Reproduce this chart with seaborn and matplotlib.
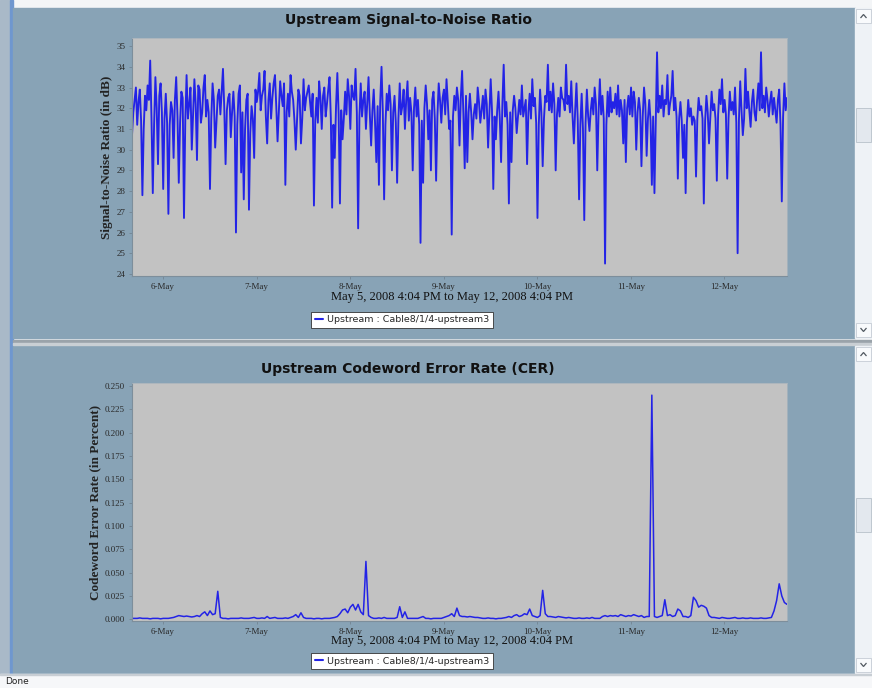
import numpy as np
import pandas as pd
import matplotlib
matplotlib.use("Agg")
import matplotlib.pyplot as plt
import matplotlib.dates as mdates
from matplotlib.patches import Rectangle, Polygon
from matplotlib.lines import Line2D
import seaborn as sns

# ---------------- data ----------------
start_time = "2008-05-05 16:04"

# SNR samples read at the 40-minute marks ...
snr_db = [
    30.7, 32.4, 31.2, 32.9, 27.8, 32.6, 33.1, 34.3, 27.9, 33.5,
    29.3, 33.2, 28.1, 32.7, 26.9, 32.3, 29.6, 33.5, 28.4, 32.8,
    26.7, 33.6, 32.2, 30.0, 33.4, 29.5, 32.9, 31.8, 33.6, 32.4,
    28.1, 33.2, 30.1, 32.6, 31.7, 33.9, 29.3, 32.5, 30.6, 32.8,
    26.0, 32.7, 28.9, 27.6, 32.4, 27.1, 32.1, 29.6, 32.3, 33.7,
    32.6, 33.8, 30.3, 33.2, 32.5, 33.6, 30.4, 33.3, 32.1, 28.3,
    32.7, 33.6, 32.4, 30.0, 32.9, 30.3, 33.4, 32.5, 33.1, 31.6,
    27.3, 32.5, 33.3, 31.0, 33.0, 32.2, 33.5, 27.2, 29.6, 33.7,
    27.4, 30.5, 32.8, 33.4, 31.0, 32.6, 33.9, 26.2, 33.2, 32.4,
    31.0, 33.5, 30.2, 32.9, 29.4, 28.3, 34.0, 27.6, 32.7, 33.1,
    29.0, 32.6, 28.4, 33.2, 32.1, 31.0, 33.3, 32.5, 29.0, 33.0,
    32.4, 25.5, 28.4, 33.1, 30.5, 29.0, 32.8, 28.5, 33.2, 31.3,
    32.9, 33.4, 31.0, 25.9, 32.6, 33.0, 30.2, 33.8, 29.1, 29.4,
    32.7, 30.5, 32.2, 33.0, 31.3, 32.6, 32.9, 30.1, 33.4, 28.1,
    30.5, 32.8, 29.4, 34.1, 32.3, 27.4, 29.4, 32.6, 30.8, 32.4,
    33.1, 32.0, 29.3, 32.7, 33.4, 32.5, 26.7, 32.9, 29.2, 32.6,
    34.1, 32.8, 33.2, 29.0, 32.5, 33.0, 32.4, 34.1, 32.6, 33.3,
    30.3, 33.2, 27.6, 32.7, 26.6, 32.9, 30.9, 32.5, 33.0, 29.0,
    33.4, 32.6, 24.5, 32.8, 33.0, 32.3, 32.7, 33.1, 32.4, 30.3,
    29.4, 32.6, 33.0, 32.8, 30.0, 32.5, 29.2, 33.0, 29.7, 32.4,
    28.3, 27.9, 34.7, 32.6, 33.1, 32.4, 33.6, 32.2, 33.8, 32.5,
    28.6, 32.3, 29.6, 27.9, 32.4, 32.0, 31.6, 28.7, 32.5, 32.1,
    27.4, 32.6, 30.3, 32.8, 32.2, 28.5, 32.9, 33.4, 32.4, 28.6,
    32.8, 32.3, 33.0, 25.0, 33.3, 30.7, 33.9, 32.8, 31.1, 32.9,
    31.4, 33.2, 34.7, 32.6, 33.0, 31.6, 32.8, 32.5, 31.3, 32.9,
    27.5, 33.2, 32.5,
]
# ... and the in-between samples (20 minutes later) filling the dense band
snr_db_between = [
    31.8, 33.0, 32.3, 31.4, 31.0, 31.9, 32.4, 31.5, 31.2, 32.0,
    32.6, 31.8, 31.5, 31.3, 31.2, 31.9, 32.4, 31.6, 31.3, 32.5,
    31.4, 31.5, 33.0, 31.7, 32.2, 33.1, 31.3, 33.0, 31.6, 31.8,
    31.5, 32.4, 31.4, 32.9, 32.8, 32.0, 31.9, 32.7, 31.8, 31.6,
    31.2, 33.1, 31.8, 31.0, 32.7, 30.8, 31.5, 32.9, 32.8, 31.9,
    32.9, 31.6, 32.4, 31.5, 33.2, 32.1, 31.8, 32.6, 33.2, 31.8,
    31.6, 32.8, 31.4, 31.5, 32.6, 31.5, 31.9, 32.8, 32.3, 32.7,
    31.4, 31.3, 32.5, 32.6, 31.6, 32.9, 31.5, 31.2, 32.1, 31.7,
    31.9, 31.5, 31.7, 32.6, 33.1, 32.4, 31.8, 31.6, 31.6, 32.8,
    32.3, 31.7, 31.9, 31.3, 32.1, 32.3, 31.8, 31.2, 31.9, 32.2,
    31.8, 31.3, 31.5, 31.7, 32.9, 32.4, 31.4, 31.8, 32.0, 31.6,
    31.2, 31.4, 32.0, 32.2, 31.9, 32.4, 31.5, 31.6, 32.4, 32.5,
    31.7, 32.3, 31.4, 31.6, 31.9, 32.4, 32.5, 31.7, 32.6, 31.8,
    31.8, 31.7, 31.5, 32.3, 31.9, 31.5, 32.2, 31.8, 31.9, 31.6,
    31.9, 31.5, 32.2, 31.6, 31.2, 31.8, 31.9, 32.0, 31.6, 31.7,
    31.6, 32.4, 31.8, 31.5, 32.1, 31.3, 31.2, 31.8, 31.5, 32.3,
    31.9, 31.8, 32.2, 31.7, 31.6, 32.5, 31.9, 32.2, 31.8, 31.6,
    31.9, 31.4, 31.2, 31.0, 31.3, 31.6, 31.9, 31.7, 32.2, 31.8,
    31.7, 31.5, 31.2, 31.6, 31.8, 32.0, 31.7, 31.6, 31.9, 32.4,
    32.0, 31.7, 31.6, 32.3, 31.8, 31.9, 31.6, 32.2, 31.5, 31.4,
    31.6, 31.2, 31.8, 32.0, 31.6, 32.2, 31.7, 32.6, 31.9, 31.6,
    31.5, 31.4, 31.2, 31.3, 31.6, 31.2, 31.4, 31.5, 31.9, 31.5,
    31.4, 31.8, 31.6, 31.9, 31.5, 31.7, 32.2, 31.8, 31.7, 31.5,
    31.9, 31.7, 31.3, 31.4, 31.9, 31.5, 32.0, 31.9, 32.3, 31.8,
    32.4, 31.9, 32.0, 31.8, 32.4, 32.3, 31.7, 31.9, 32.4, 31.2,
    31.6, 31.9,
]

# CER samples at 40-minute marks
cer_pct = [
    0.001, 0.001, 0.001, 0.0015, 0.001, 0.001, 0.001, 0.0005, 0.001, 0.001,
    0.001, 0.0005, 0.001, 0.001, 0.001, 0.0015, 0.002, 0.003, 0.004, 0.0035,
    0.003, 0.0035, 0.003, 0.0025, 0.003, 0.004, 0.003, 0.006, 0.008, 0.004,
    0.009, 0.005, 0.006, 0.030, 0.002, 0.001, 0.001, 0.0005, 0.001, 0.001,
    0.001, 0.001, 0.0015, 0.001, 0.001, 0.001, 0.0015, 0.002, 0.001, 0.001,
    0.0015, 0.001, 0.003, 0.001, 0.0015, 0.002, 0.001, 0.001, 0.001, 0.0015,
    0.001, 0.002, 0.003, 0.005, 0.002, 0.007, 0.002, 0.001, 0.001, 0.001,
    0.0005, 0.001, 0.001, 0.0005, 0.001, 0.001, 0.001, 0.0015, 0.002, 0.003,
    0.006, 0.010, 0.011, 0.007, 0.013, 0.016, 0.010, 0.016, 0.008, 0.005,
    0.062, 0.004, 0.002, 0.001, 0.001, 0.0015, 0.001, 0.002, 0.001, 0.001,
    0.001, 0.001, 0.002, 0.0135, 0.002, 0.008, 0.001, 0.001, 0.001, 0.001,
    0.001, 0.002, 0.003, 0.001, 0.001, 0.0005, 0.001, 0.001, 0.001, 0.001,
    0.002, 0.003, 0.004, 0.006, 0.003, 0.012, 0.004, 0.003, 0.003, 0.0025,
    0.003, 0.0025, 0.002, 0.002, 0.0015, 0.001, 0.001, 0.0015, 0.001, 0.001,
    0.0005, 0.001, 0.001, 0.0015, 0.002, 0.003, 0.002, 0.004, 0.005, 0.003,
    0.004, 0.006, 0.005, 0.011, 0.004, 0.003, 0.002, 0.004, 0.031, 0.006,
    0.003, 0.003, 0.0025, 0.002, 0.003, 0.0025, 0.002, 0.0015, 0.002, 0.0015,
    0.001, 0.001, 0.0015, 0.001, 0.001, 0.0015, 0.001, 0.002, 0.001, 0.001,
    0.001, 0.003, 0.004, 0.003, 0.004, 0.0035, 0.004, 0.003, 0.005, 0.004,
    0.003, 0.004, 0.0035, 0.005, 0.004, 0.003, 0.004, 0.002, 0.003, 0.003,
    0.240, 0.003, 0.002, 0.003, 0.004, 0.021, 0.004, 0.005, 0.003, 0.004,
    0.011, 0.009, 0.003, 0.003, 0.002, 0.004, 0.0236, 0.020, 0.013, 0.015,
    0.014, 0.012, 0.004, 0.002, 0.002, 0.0015, 0.001, 0.002, 0.0015, 0.001,
    0.001, 0.0015, 0.002, 0.001, 0.001, 0.0015, 0.001, 0.001, 0.0015, 0.001,
    0.001, 0.001, 0.0015, 0.001, 0.001, 0.0015, 0.002, 0.009, 0.020, 0.038,
    0.025, 0.018, 0.016,
]

snr_yticks = [24, 25, 26, 27, 28, 29, 30, 31, 32, 33, 34, 35]
cer_yticks = [0.000, 0.025, 0.050, 0.075, 0.100, 0.125, 0.150, 0.175, 0.200, 0.225, 0.250]

title_snr = "Upstream Signal-to-Noise Ratio"
title_cer = "Upstream Codeword Error Rate (CER)"
ylabel_snr = "Signal-to-Noise Ratio (in dB)"
ylabel_cer = "Codeword Error Rate (in Percent)"
xlabel_txt = "May 5, 2008 4:04 PM to May 12, 2008 4:04 PM"
legend_txt = "Upstream : Cable8/1/4-upstream3"

# combine the two SNR reading passes in time order
snr_all = []
for a, b in zip(snr_db[:-1], snr_db_between):
    snr_all.extend([a, b])
snr_all.append(snr_db[-1])

t_snr = pd.date_range(start=start_time, periods=len(snr_all), freq="20min")
t_cer = pd.date_range(start=start_time, periods=len(cer_pct), freq="40min")
df_snr = pd.DataFrame({"time": t_snr, "value": snr_all})
df_cer = pd.DataFrame({"time": t_cer, "value": cer_pct})

# ---------------- style ----------------
sns.set_theme(style="white")
plt.rcParams["font.family"] = ["DejaVu Sans"]

W, H = 872, 688
fig = plt.figure(figsize=(W / 100, H / 100), dpi=100)
fig.patch.set_facecolor("#ffffff")

panel_bg = "#88a3b6"
plot_bg = "#c2c2c2"
line_col = "#2323e6"

# background "screen" in pixel coordinates
bg = fig.add_axes([0, 0, 1, 1], zorder=-10)
bg.set_xlim(0, W)
bg.set_ylim(H, 0)
bg.axis("off")
bg.add_patch(Rectangle((0, 0), W, H, color="#f3f5f7"))
bg.add_patch(Rectangle((0, 0), 10, 674, color="#a9b9c8"))
bg.add_patch(Rectangle((10, 0), 3, 674, color="#6f97cf"))
bg.add_patch(Rectangle((13, 8), 842, 330, color=panel_bg))
bg.add_patch(Rectangle((13, 346), 842, 327, color=panel_bg))
bg.add_patch(Rectangle((13, 340), 859, 2, color="#9aa3aa"))
bg.add_patch(Rectangle((13, 343), 859, 2, color="#c9cfd4"))
# scrollbars
for (y0, y1) in [(8, 338), (346, 673)]:
    bg.add_patch(Rectangle((855, y0), 17, y1 - y0, color="#eef2f6"))
    bg.add_patch(Rectangle((856, y0 + 1), 15, 14, facecolor="#f8fafc", edgecolor="#c5ccd4", lw=0.6))
    bg.add_patch(Rectangle((856, y1 - 15), 15, 14, facecolor="#f8fafc", edgecolor="#c5ccd4", lw=0.6))
    ty = y0 + 8
    bg.add_patch(Polygon([[860.5, ty + 2], [863.5, ty - 1.5], [866.5, ty + 2]], closed=False,
                         fill=False, edgecolor="#505860", lw=0.9))
    by = y1 - 8
    bg.add_patch(Polygon([[860.5, by - 2], [863.5, by + 1.5], [866.5, by - 2]], closed=False,
                         fill=False, edgecolor="#505860", lw=0.9))
for mid in (125, 515):
    bg.add_patch(Rectangle((856, mid - 17), 15, 34, facecolor="#e3e8ee", edgecolor="#b8c1ca", lw=0.6))
bg.add_patch(Rectangle((0, 674), W, 14, color="#f6f7f9"))
bg.add_patch(Rectangle((0, 674), W, 1, color="#c8ced4"))
bg.text(5, 682, "Done", fontsize=6.5, color="#222222", va="center", ha="left")

serif = ["Liberation Serif", "DejaVu Serif"]
sans_bold = ["DejaVu Sans"]


def make_axes(df, rect_px, ylim, yticks, yfmt, title, ylabel, title_y, xlab_y, leg_y, ylab_x, lw):
    x0, y0, x1, y1 = rect_px
    ax = fig.add_axes([x0 / W, 1 - y1 / H, (x1 - x0) / W, (y1 - y0) / H])
    ax.set_facecolor(plot_bg)
    sns.lineplot(data=df, x="time", y="value", ax=ax, color=line_col, linewidth=lw, legend=False)
    ax.set_xlim(df["time"].iloc[0], df["time"].iloc[-1])
    ax.set_ylim(*ylim)
    ax.set_yticks(yticks)
    ax.set_yticklabels([yfmt.format(v) for v in yticks], fontfamily=serif, fontsize=6.5, color="#2a2a2a")
    ax.xaxis.set_major_locator(mdates.DayLocator())
    ax.xaxis.set_major_formatter(mdates.DateFormatter("%-d-%b"))
    for lab in ax.get_xticklabels():
        lab.set_fontfamily(serif)
        lab.set_fontsize(6.5)
        lab.set_color("#2a2a2a")
    ax.tick_params(axis="both", length=2, width=0.5, color="#6f7f8c", pad=3, direction="out")
    ax.tick_params(axis="both", which="both", bottom=True, left=True)
    ax.set_xlabel("")
    ax.set_ylabel("")
    for s in ["top", "right"]:
        ax.spines[s].set_color("#a9b4bd")
        ax.spines[s].set_linewidth(0.6)
    for s in ["left", "bottom"]:
        ax.spines[s].set_color("#7d8e9b")
        ax.spines[s].set_linewidth(0.8)
    fig.text(408 / W, 1 - title_y / H, title, ha="center", va="center",
             fontsize=10, fontweight="bold", color="#111111", fontfamily=sans_bold)
    fig.text(452 / W, 1 - xlab_y / H, xlabel_txt, ha="center", va="center",
             fontsize=9, color="#111111", fontfamily=serif)
    fig.text(ylab_x / W, 1 - (y0 + y1) / 2 / H, ylabel, ha="center", va="center", rotation=90,
             fontsize=9.5, fontweight="bold", color="#222222", fontfamily=serif)
    handle = Line2D([0], [0], color=line_col, lw=1.5)
    leg = fig.legend([handle], [legend_txt], loc="center", bbox_to_anchor=(402 / W, 1 - leg_y / H),
                     frameon=True, fancybox=False, fontsize=6.8, handlelength=0.9, handletextpad=0.4,
                     borderpad=0.35, borderaxespad=0)
    leg.get_frame().set_edgecolor("#333333")
    leg.get_frame().set_linewidth(0.6)
    leg.get_frame().set_facecolor("#ffffff")
    leg.get_frame().set_alpha(1.0)
    return ax


make_axes(df_snr, (132, 38, 787, 276), (23.9, 35.39), snr_yticks, "{:.0f}",
          title_snr, ylabel_snr, 20, 297, 320, 107, 1.35)
make_axes(df_cer, (132, 383, 787, 621), (-0.0018, 0.253), cer_yticks, "{:.3f}",
          title_cer, ylabel_cer, 369, 641, 661, 95, 1.1)

fig.savefig("out.png", dpi=100, facecolor=fig.get_facecolor())
